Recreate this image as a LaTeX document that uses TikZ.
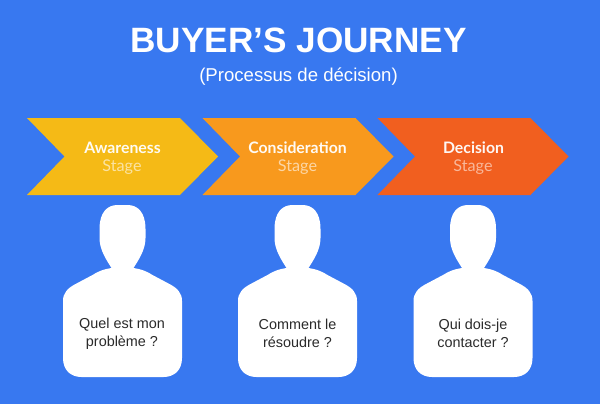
\documentclass[tikz,border=0pt]{standalone}
\usepackage{fontspec}
\setmainfont{Liberation Sans}
\newfontfamily\stagefont{Lato}
\definecolor{bgblue}{HTML}{3878F0}
\definecolor{cyellow}{HTML}{F5BA16}
\definecolor{corange}{HTML}{F8991D}
\definecolor{cred}{HTML}{F15F1F}
\definecolor{txtdark}{HTML}{2A2A2A}
\tikzset{
  titletext/.style={font=\fontsize{35.2}{40}\selectfont\bfseries,text=white,inner sep=0pt},
  subtitletext/.style={font=\fontsize{18.6}{22}\selectfont,text=white,inner sep=0pt},
  stagehead/.style={font=\stagefont\fontsize{15.8}{18}\selectfont\bfseries,inner sep=0pt},
  stagesub/.style={font=\stagefont\fontsize{16.2}{18}\selectfont,inner sep=0pt},
  question/.style={font=\fontsize{14.4}{18}\selectfont,text=txtdark,align=center,inner sep=0pt},
  pics/chevron/.style={code={
    \fill[#1] (0,0) -- (153,0) -- (191,38.5) -- (153,77) -- (0,77) -- (37.5,38.5) -- cycle;
  }},
  pics/person/.style={code={
    \fill[white] (-23,24) .. controls (-23,7) and (-15,0) .. (-5,0) -- (5,0)
      .. controls (15,0) and (23,7) .. (23,24) -- (23,33)
      .. controls (23,45) and (16,55) .. (11,63)
      .. controls (18,64) and (24,66) .. (30,70)
      -- (46,78.5) .. controls (55,83) and (59.5,88) .. (59.5,96)
      -- (59.5,153) .. controls (59.5,165) and (52,172) .. (41,172)
      -- (-41,172) .. controls (-52,172) and (-59.5,165) .. (-59.5,153)
      -- (-59.5,96) .. controls (-59.5,88) and (-55,83) .. (-46,78.5)
      -- (-30,70) .. controls (-24,66) and (-18,64) .. (-11,63)
      .. controls (-16,55) and (-23,45) .. (-23,33) -- cycle;
  }}
}
\begin{document}
\begin{tikzpicture}[x=1pt,y=-1pt]
\fill[bgblue] (0,0) rectangle (600,404);
\useasboundingbox (0,0) rectangle (600,404);
\node[titletext] (title) at (298.5,40) {BUYER’S JOURNEY};
\node[subtitletext] (subtitle) at (298.5,76.5) {(Processus de décision)};
\pic at (27,118) {chevron=cyellow};
\pic at (202.5,118) {chevron=corange};
\pic at (377.5,118) {chevron=cred};
\node[stagehead,text=white!95!cyellow] (a1) at (122.5,147.5) {Awareness};
\node[stagesub,text=white!60!cyellow] (a2) at (122,167) {Stage};
\node[stagehead,text=white!95!corange] (b1) at (297.5,147.5) {Consideration};
\node[stagesub,text=white!60!corange] (b2) at (297.5,167) {Stage};
\node[stagehead,text=white!95!cred] (c1) at (473.5,147.5) {Decision};
\node[stagesub,text=white!55!cred] (c2) at (473,167) {Stage};
\pic at (122.5,205) {person};
\pic at (297.5,205) {person};
\pic at (473,205) {person};
\node[question] (q1) at (122,333.5) {Quel est mon\\problème ?};
\node[question] (q2) at (297.5,333.5) {Comment le\\résoudre ?};
\node[question] (q3) at (473,333.5) {Qui dois-je\\contacter ?};
\end{tikzpicture}
\end{document}
